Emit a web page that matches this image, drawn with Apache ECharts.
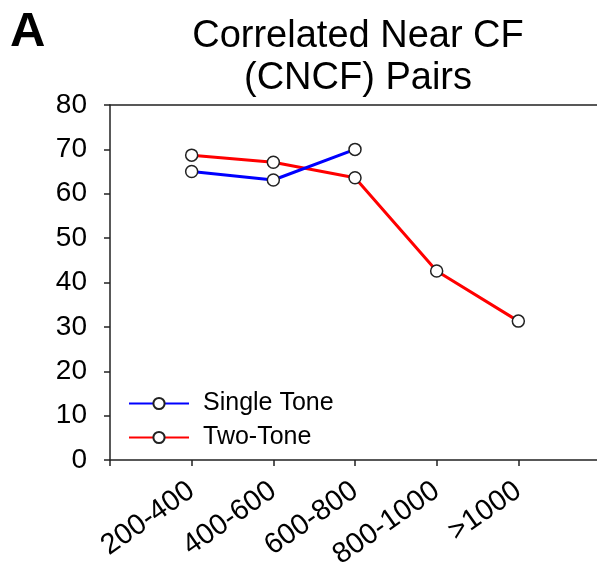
<!DOCTYPE html>
<html><head><meta charset="utf-8">
<script src="https://cdn.jsdelivr.net/npm/echarts@6/dist/echarts.min.js"></script>
<style>html,body{margin:0;padding:0;background:#fff}#c{width:597px;height:568px}</style>
</head><body><div id="c"></div>
<script>
const categories = ['200-400', '400-600', '600-800', '800-1000', '>1000'];
const singleTone = [65.0, 63.1, 70.0];
const twoTone = [68.7, 67.1, 63.6, 42.6, 31.3];
const yTicks = [0, 10, 20, 30, 40, 50, 60, 70, 80];

const toPoints = arr => arr.map((v, i) => [i + 1, v]);
const font = 'Liberation Sans, Arial, sans-serif';
const marker = {symbol: 'circle', symbolSize: 12, itemStyle: {color: '#fff', borderColor: '#222', borderWidth: 1.5}};

const chart = echarts.init(document.getElementById('c'));
chart.setOption({
  animation: false,
  backgroundColor: '#fff',
  title: [
    {text: 'Correlated Near CF\n(CNCF) Pairs', left: 353, top: 11, textAlign: 'center',
     textStyle: {fontFamily: font, fontSize: 38, fontWeight: 'normal', color: '#000', lineHeight: 42}},
    {text: 'A', left: 10, top: 8, padding: 0, textStyle: {fontFamily: font, fontSize: 49, fontWeight: 'bold', color: '#000'}}
  ],
  legend: {
    orient: 'vertical', left: 128, top: 391, itemWidth: 60, itemHeight: 14, itemGap: 9, padding: 0,
    textStyle: {fontFamily: font, fontSize: 25, lineHeight: 25, color: '#000', padding: [0, 0, 0, 9]},
    data: ['Single Tone', 'Two-Tone']
  },
  grid: {left: 110, right: -3, top: 105, bottom: 108, containLabel: false, outerBoundsMode: 'none'},
  xAxis: [{
    type: 'value', min: 0, max: 6, interval: 1,
    axisLine: {lineStyle: {color: '#222', width: 1.5}},
    axisTick: {show: true, length: 6, lineStyle: {color: '#222', width: 1.5}},
    splitLine: {show: false},
    axisLabel: {
      rotate: 35, margin: 28, fontFamily: font, fontSize: 29, color: '#000',
      formatter: v => (v >= 1 && v <= categories.length) ? categories[v - 1] : ''
    }
  }, {
    type: 'value', position: 'top', min: 0, max: 6,
    axisLine: {show: true, lineStyle: {color: '#222', width: 1.5}},
    axisTick: {show: false}, axisLabel: {show: false}, splitLine: {show: false}
  }],
  yAxis: {
    type: 'value', min: 0, max: 80, interval: 10,
    axisLine: {show: true, lineStyle: {color: '#222', width: 1.5}},
    axisTick: {show: true, length: 6, lineStyle: {color: '#222', width: 1.5}},
    splitLine: {show: false},
    axisLabel: {margin: 23, fontFamily: font, fontSize: 28, color: '#000',
      formatter: v => yTicks.includes(v) ? String(v) : ''}
  },
  series: [
    Object.assign({name: 'Single Tone', type: 'line', data: toPoints(singleTone),
      lineStyle: {color: '#0000ff', width: 3}, z: 3}, marker),
    Object.assign({name: 'Two-Tone', type: 'line', data: toPoints(twoTone),
      lineStyle: {color: '#ff0000', width: 3}, z: 2}, marker)
  ]
});
</script></body></html>
